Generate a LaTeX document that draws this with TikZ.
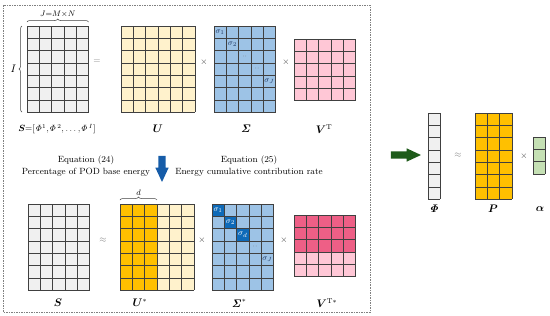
\documentclass[tikz,border=0pt]{standalone}
\usepackage{amsmath,bm}
\usetikzlibrary{calc,decorations.pathreplacing,shapes.arrows}

\definecolor{cellgray}{HTML}{F0F0F0}
\definecolor{beige}{HTML}{FFF2CC}
\definecolor{gold}{HTML}{FFC000}
\definecolor{skyblue}{HTML}{9DC3E6}
\definecolor{deepblue}{HTML}{0E6AB8}
\definecolor{pinklight}{HTML}{FFC7D6}
\definecolor{pinkdark}{HTML}{EE5F86}
\definecolor{greenlight}{HTML}{C5E0B4}
\definecolor{arrowblue}{HTML}{165CA8}
\definecolor{arrowgreen}{HTML}{1E5B1A}
\definecolor{gridc}{HTML}{404040}
\definecolor{navy}{HTML}{1F3864}

\newcommand{\cw}{12.3}
% grid lines of a matrix node: name, columns, rows
\newcommand{\cellgrid}[3]{%
  \foreach \k in {0,...,#2}
    \draw[gridline] ($(#1.north west)!\k/#2!(#1.north east)$) -- ($(#1.south west)!\k/#2!(#1.south east)$);
  \foreach \k in {0,...,#3}
    \draw[gridline] ($(#1.north west)!\k/#3!(#1.south west)$) -- ($(#1.north east)!\k/#3!(#1.south east)$);
}

\begin{document}
\begin{tikzpicture}[
    x=1pt, y=-1pt,
    mat/.style={inner sep=0pt, outer sep=0pt, anchor=north west},
    gridline/.style={draw=gridc, line width=0.6pt},
    lbl/.style={font=\fontsize{10.5}{12}\selectfont},
    op/.style={font=\small, text=gray},
    times/.style={font=\small, text=gridc},
    eqtext/.style={align=center, font=\fontsize{9}{12}\selectfont},
    sig/.style={font=\fontsize{8.5}{9}\selectfont, inner sep=0pt, text=navy},
    bracket/.style={decorate, decoration={brace, amplitude=3pt}, line width=0.5pt, draw=gridc},
    blockarrow/.style={single arrow, inner xsep=0pt, inner ysep=3.5pt, single arrow head extend=3pt,
      single arrow tip angle=50}
]
    \useasboundingbox (0,0) rectangle (550,316);
    \draw[gray, line width=0.5pt, dash pattern=on 1.5pt off 1pt] (3,5) rectangle (370,312);

    % matrices
    \foreach \m/\x/\y/\c/\r/\f in {S/27/26/5/7/cellgray, U/121/26/6/7/beige, Sig/214/26/5/7/skyblue,
        VT/294/39/5/5/pinklight, S2/28/204/5/7/cellgray, Ustar/120/204/6/7/beige,
        Sig2/212/204/5/7/skyblue, VT2/294/215/5/5/pinklight, Phi/428/113/1/7/cellgray,
        P/475/113/3/7/gold, alpha/533/137/1/3/greenlight}
      \node[mat, fill=\f, minimum width=\c*\cw*1pt, minimum height=\r*\cw*1pt] (\m) at (\x,\y) {};

    % truncated parts
    \fill[gold] (Ustar.north west) rectangle ($(Ustar.south west)!0.5!(Ustar.south east)$);
    \foreach \k in {0,1,2}
      \fill[deepblue] ($(Sig2.north west)+(\k*\cw,\k*\cw)$) rectangle +(\cw,\cw);
    \fill[pinkdark] (VT2.north west) rectangle ($(VT2.north east)!0.6!(VT2.south east)$);

    \foreach \m/\c/\r in {S/5/7, U/6/7, Sig/5/7, VT/5/5, S2/5/7, Ustar/6/7, Sig2/5/7, VT2/5/5,
        Phi/1/7, P/3/7, alpha/1/3}
      \cellgrid{\m}{\c}{\r};

    % singular values
    \begin{scope}[shift={(Sig.north west)}]
      \node[sig] (s1) at (0.5*\cw,0.5*\cw) {$\sigma_1$};
      \node[sig] (s2) at (1.5*\cw,1.5*\cw) {$\sigma_2$};
      \node[sig, text=gray] (s3) at (2.5*\cw,2.5*\cw) {$\cdot\cdot$};
      \node[sig, text=gray] (s4) at (3.5*\cw,3.5*\cw) {$\cdot\cdot$};
      \node[sig] (sJ) at (4.5*\cw,4.5*\cw) {$\sigma_J$};
    \end{scope}
    \begin{scope}[shift={(Sig2.north west)}]
      \node[sig, text=white] (t1) at (0.5*\cw,0.5*\cw) {$\sigma_1$};
      \node[sig, text=white] (t2) at (1.5*\cw,1.5*\cw) {$\sigma_2$};
      \node[sig, text=white] (td) at (2.5*\cw,2.5*\cw) {$\sigma_d$};
      \node[sig, text=gray] (t4) at (3.5*\cw,3.5*\cw) {$\cdot\cdot$};
      \node[sig] (tJ) at (4.5*\cw,4.5*\cw) {$\sigma_J$};
    \end{scope}

    % braces
    \draw[bracket] ($(S.south west)+(-5,0)$) -- ($(S.north west)+(-5,0)$)
      node[midway, left=2pt, lbl] {$I$};
    \draw[bracket] ($(S.north west)+(0,-4)$) -- ($(S.north east)+(0,-4)$)
      node[midway, above=1pt, font=\fontsize{8.5}{10}\selectfont] {$J{=}M{\times}N$};
    \draw[bracket] ($(Ustar.north west)+(0,-4)$) -- ($(Ustar.north west)+(3*\cw,-4)$)
      node[midway, above=1pt, font=\fontsize{8.5}{10}\selectfont] {$d$};

    % SVD (top)
    \node[op] (eq) at (97,62) {$=$};
    \node[times] (x1) at (204,62) {$\times$};
    \node[times] (x2) at (286,62) {$\times$};
    \node[font=\fontsize{9}{11}\selectfont] (Slbl) at (57,129)
      {$\bm{S}{=}[\mathit{\Phi}^1{,}\mathit{\Phi}^{\,2}{,}\ldots{,}\mathit{\Phi}^{\,I}]$};
    \node[lbl] (Ulbl) at (158,129) {$\bm{U}$};
    \node[lbl] (Siglbl) at (246,129) {$\bm{\mathit{\Sigma}}$};
    \node[lbl] (VTlbl) at (324,129) {$\bm{V}^{\mathrm{T}}$};

    % truncation
    \node[eqtext] (eq24) at (86,166) {Equation (24)\\Percentage of POD base energy};
    \node[eqtext] (eq25) at (249,166) {Equation (25)\\Energy cumulative contribution rate};
    \node[blockarrow, fill=arrowblue, minimum height=26pt, rotate=-90] (down) at (162,165) {};

    % reduced SVD (bottom)
    \node[op] (ap1) at (103,240) {$\approx$};
    \node[times] (x3) at (202,240) {$\times$};
    \node[times] (x4) at (284,240) {$\times$};
    \node[lbl] (S2lbl) at (58,303) {$\bm{S}$};
    \node[lbl] (Ustarlbl) at (140,303) {$\bm{U}^{*}$};
    \node[lbl] (Sig2lbl) at (239,303) {$\bm{\mathit{\Sigma}}^{*}$};
    \node[lbl] (VT2lbl) at (327,303) {$\bm{V}^{\mathrm{T}*}$};

    % POD basis
    \node[blockarrow, fill=arrowgreen, minimum height=30pt] (right) at (402,155) {};
    \node[op] (ap2) at (458,155) {$\approx$};
    \node[times] (x5) at (524,156) {$\times$};
    \node[lbl] (Philbl) at (434,209) {$\bm{\mathit{\Phi}}$};
    \node[lbl] (Plbl) at (493,209) {$\bm{P}$};
    \node[lbl] (alphalbl) at (540,209) {$\bm{\alpha}$};
\end{tikzpicture}
\end{document}
